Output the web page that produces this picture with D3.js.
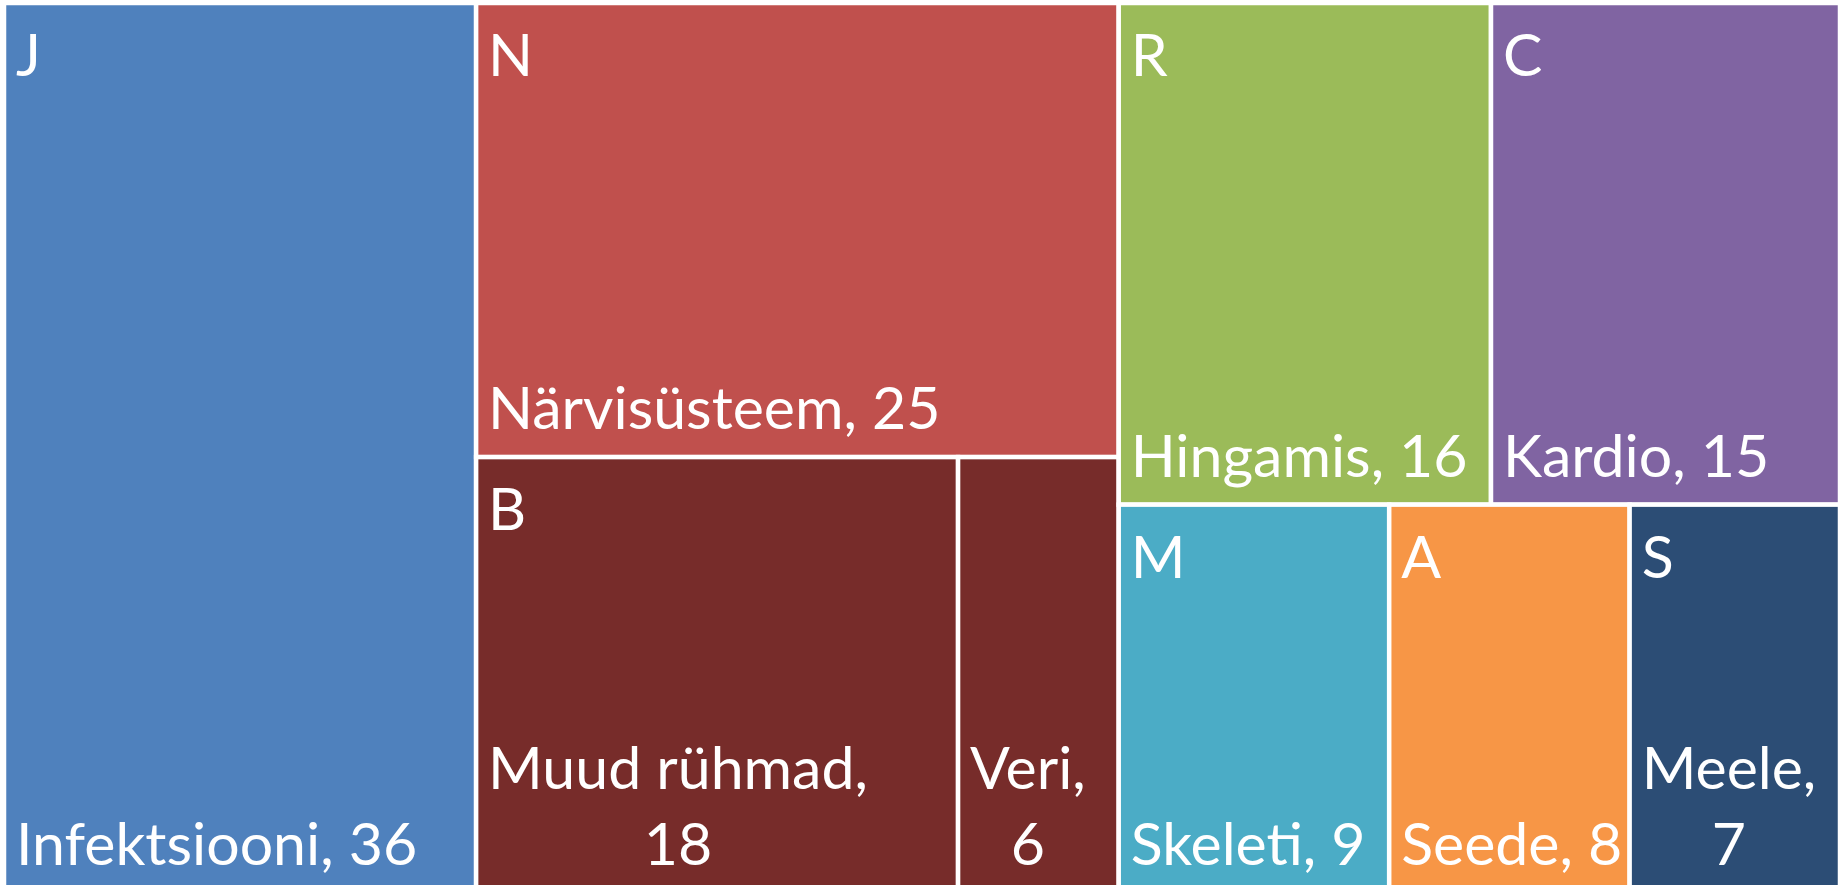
<!DOCTYPE html>
<html>
<head>
<meta charset="utf-8">
<script src="https://cdn.jsdelivr.net/npm/d3@7"></script>
<style>
  body { margin: 0; background: #fff; overflow: hidden; }
</style>
</head>
<body>
<svg id="chart"></svg>
<script>
// groups (letter code + colour) and the leaves inside them
const groupCodes = ["J", "N", "B", "R", "C", "M", "A", "S"];
const groupColors = ["#4F81BD", "#C0504D", "#772C2A", "#9BBB59", "#8064A2", "#4BACC6", "#F79646", "#2C4D75"];

const leafNames = ["Infektsiooni", "Närvisüsteem", "Muud rühmad", "Veri", "Hingamis", "Kardio", "Skeleti", "Seede", "Meele"];
const leafGroups = ["J", "N", "B", "B", "R", "C", "M", "A", "S"];
const leafValues = [36, 25, 18, 6, 16, 15, 9, 8, 7];
// labels that break onto two lines in the original
const leafWrapped = [false, false, true, true, false, false, false, false, true];

const svgWidth = 1841;
const svgHeight = 885;
const fontSize = 59;
const pad = 12;
const lineGap = 76;

const svg = d3.select("#chart")
    .attr("width", svgWidth)
    .attr("height", svgHeight)
    .style("font-family", "Lato, 'Open Sans', sans-serif");

const leaves = leafNames.map((n, i) => ({ name: n, group: leafGroups[i], value: leafValues[i], wrap: leafWrapped[i] }));

const tree = {
    name: "root",
    children: groupCodes.map(c => ({ name: c, children: leaves.filter(l => l.group === c) }))
};

const colorScale = d3.scaleOrdinal().domain(groupCodes).range(groupColors);

const root = d3.hierarchy(tree)
    .sum(d => d.children ? 0 : d.value)
    .sort((a, b) => b.value - a.value);

// plot area runs past the bottom of the window, like the original
d3.treemap()
    .tile(d3.treemapSquarify.ratio(1))
    .size([1836, 890])(root);

const g = svg.append("g").attr("transform", "translate(4,3)");

g.selectAll(".cell")
    .data(root.leaves())
    .enter().append("rect")
    .attr("class", "cell")
    .attr("x", d => d.x0)
    .attr("y", d => d.y0)
    .attr("width", d => d.x1 - d.x0)
    .attr("height", d => d.y1 - d.y0)
    .attr("fill", d => colorScale(d.data.group))
    .attr("stroke", "#fff")
    .attr("stroke-width", 4.5);

// group letters, top-left
g.selectAll(".code")
    .data(root.children)
    .enter().append("text")
    .attr("class", "code")
    .attr("x", d => d.x0 + pad)
    .attr("y", d => d.y0 + 73)
    .attr("fill", "#fff")
    .style("font-size", fontSize + "px")
    .text(d => d.data.name);

// leaf labels, bottom-left; two-line ones are centred inside their block
root.leaves().forEach(function(d) {
    const label = d.data.name + ", " + d.data.value;
    const t = g.append("text")
        .attr("fill", "#fff")
        .style("font-size", fontSize + "px");
    let lines = [label];
    if (d.data.wrap) {
        const k = label.lastIndexOf(" ");
        lines = [label.slice(0, k), label.slice(k + 1)];
    }
    const widths = lines.map(function(s) {
        t.text(s);
        return t.node().getComputedTextLength();
    });
    t.text(null);
    const blockW = d3.max(widths);
    const cx = d.x0 + pad + blockW / 2;
    t.attr("text-anchor", "middle");
    lines.forEach(function(s, i) {
        t.append("tspan")
            .attr("x", cx)
            .attr("y", d.y1 - 28 - (lines.length - 1 - i) * lineGap)
            .text(s);
    });
});
</script>
</body>
</html>
